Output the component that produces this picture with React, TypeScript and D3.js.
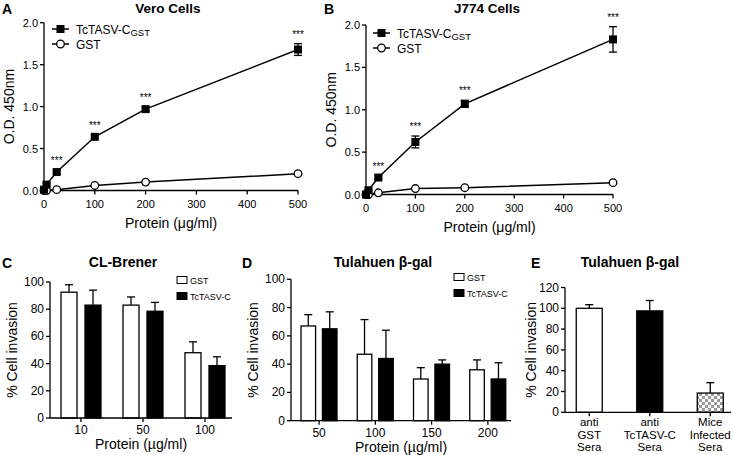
import React from "react";
import * as d3 from "d3";

// ---------- Data ----------
const doseX = [0, 5, 25, 100, 200, 500];
const xTicksLine = [0, 100, 200, 300, 400, 500];
const yTicksLine = [0, 0.5, 1.0, 1.5, 2.0];

const veroTc = [0.01, 0.07, 0.22, 0.64, 0.97, 1.68];
const veroTcErr = [0.01, 0.02, 0.02, 0.02, 0.02, 0.07];
const veroGst = [0.0, 0.0, 0.01, 0.06, 0.1, 0.2];
const veroStars = [false, false, true, true, true, true];

const j774Tc = [0.0, 0.05, 0.2, 0.62, 1.07, 1.83];
const j774TcErr = [0.01, 0.01, 0.02, 0.07, 0.04, 0.15];
const j774Gst = [0.0, 0.0, 0.02, 0.07, 0.08, 0.14];
const j774Stars = [false, false, true, true, true, true];

const clGroups = ["10", "50", "100"];
const clGst = [92.5, 83, 48];
const clGstErr = [5.5, 6, 8];
const clTc = [83, 78.5, 38.5];
const clTcErr = [11, 6.5, 6.5];
const yTicksC = [0, 20, 40, 60, 80, 100];

const tulGroups = ["50", "100", "150", "200"];
const tulGst = [67, 47, 29.5, 36];
const tulGstErr = [8, 24.5, 8, 7];
const tulTc = [65, 44, 40, 29.5];
const tulTcErr = [12, 20, 3, 11.5];
const yTicksD = [0, 20, 40, 60, 80, 100];

const seraCats = ["anti GST Sera", "anti TcTASV-C Sera", "Mice Infected Sera"];
const seraLabels = [["anti", "GST", "Sera"], ["anti", "TcTASV-C", "Sera"], ["Mice", "Infected", "Sera"]];
const seraVals = [100, 97.5, 18.5];
const seraErr = [3.5, 10, 10];
const yTicksE = [0, 20, 40, 60, 80, 100, 120];

const FONT = "Liberation Sans, Arial, Helvetica, sans-serif";
const AX = 1.3;

function LinePanel(props: any) {
  const { xRange, yRange, tc, tcErr, gst, stars, title, titleX, letter, letterX, yLabelX, legX, legY } = props;
  const x = d3.scaleLinear().domain([0, 500]).range(xRange);
  const y = d3.scaleLinear().domain([0, 2]).range(yRange);
  const line = d3.line<number>().x((_, i) => x(doseX[i])).y((d) => y(d));
  const x0 = x(0), y0 = y(0);
  return (
    <g fontFamily={FONT}>
      <text x={letterX} y={14} fontSize={14} fontWeight="bold">{letter}</text>
      <text x={titleX} y={12.5} fontSize={13.5} fontWeight="bold" textAnchor="middle">{title}</text>
      <line x1={x0} x2={x0} y1={y0} y2={y(2)} stroke="#000" strokeWidth={AX} />
      <line x1={x0} x2={x(500)} y1={y0} y2={y0} stroke="#000" strokeWidth={AX} />
      {yTicksLine.map((t) => (
        <g key={"y" + t}>
          <line x1={x0 - 4} x2={x0} y1={y(t)} y2={y(t)} stroke="#000" strokeWidth={AX} />
          <text x={x0 - 6} y={y(t) + 4} fontSize={11} textAnchor="end">{t.toFixed(1)}</text>
        </g>
      ))}
      {xTicksLine.map((t) => (
        <g key={"x" + t}>
          <line x1={x(t)} x2={x(t)} y1={y0} y2={y0 + 4} stroke="#000" strokeWidth={AX} />
          <text x={x(t)} y={y0 + 17} fontSize={11} textAnchor="middle">{t}</text>
        </g>
      ))}
      <text x={(x0 + x(500)) / 2} y={y0 + 37} fontSize={14} textAnchor="middle">Protein (μg/ml)</text>
      <text transform={`translate(${yLabelX},${(y0 + y(2)) / 2}) rotate(-90)`} fontSize={14} textAnchor="middle">O.D. 450nm</text>
      <path d={line(gst) || ""} fill="none" stroke="#000" strokeWidth={1.5} />
      <path d={line(tc) || ""} fill="none" stroke="#000" strokeWidth={1.5} />
      {gst.map((v: number, i: number) => (
        <circle key={"g" + i} cx={x(doseX[i])} cy={y(v)} r={3.8} fill="#fff" stroke="#000" strokeWidth={1.3} />
      ))}
      {tc.map((v: number, i: number) => {
        const cx = x(doseX[i]);
        const top = y(v + tcErr[i]);
        const bot = y(Math.max(0, v - tcErr[i]));
        return (
          <g key={"t" + i}>
            <line x1={cx} x2={cx} y1={top} y2={bot} stroke="#000" strokeWidth={1.3} />
            <line x1={cx - 4} x2={cx + 4} y1={top} y2={top} stroke="#000" strokeWidth={1.3} />
            <line x1={cx - 4} x2={cx + 4} y1={bot} y2={bot} stroke="#000" strokeWidth={1.3} />
            <rect x={cx - 4} y={y(v) - 4} width={8} height={8} fill="#000" />
            {stars[i] && (
              <text x={cx} y={top - 6} fontSize={10} textAnchor="middle" fill="#000">***</text>
            )}
          </g>
        );
      })}
      <line x1={legX} x2={legX + 17} y1={legY} y2={legY} stroke="#000" strokeWidth={1.5} />
      <rect x={legX + 4.5} y={legY - 4} width={8} height={8} fill="#000" />
      <text x={legX + 24} y={legY + 4.5} fontSize={12}>TcTASV-C<tspan fontSize={9.5} dy={2}>GST</tspan></text>
      <line x1={legX} x2={legX + 17} y1={legY + 15} y2={legY + 15} stroke="#000" strokeWidth={1.5} />
      <circle cx={legX + 8.5} cy={legY + 15} r={3.8} fill="#fff" stroke="#000" strokeWidth={1.3} />
      <text x={legX + 24} y={legY + 19.5} fontSize={12}>GST</text>
    </g>
  );
}

function ErrBar({ cx, top, base }: any) {
  return (
    <g>
      <line x1={cx} x2={cx} y1={top} y2={base} stroke="#000" strokeWidth={1.3} />
      <line x1={cx - 4} x2={cx + 4} y1={top} y2={top} stroke="#000" strokeWidth={1.3} />
    </g>
  );
}

function GroupedBars(props: any) {
  const { groups, gst, gstErr, tc, tcErr, xRange, axisEnd, yRange, ticks, inner, padInner, title, titleX, letter, letterX, yLabelX, legX, legY, legFont } = props;
  const x = d3.scaleBand<string>().domain(groups).range(xRange);
  const xi = d3.scaleBand<string>().domain(["gst", "tc"]).range(inner).paddingInner(padInner);
  const y = d3.scaleLinear().domain([0, 100]).range(yRange);
  const x0 = xRange[0], y0 = y(0);
  return (
    <g fontFamily={FONT}>
      <text x={letterX} y={268} fontSize={14} fontWeight="bold">{letter}</text>
      <text x={titleX} y={267} fontSize={14} fontWeight="bold" textAnchor="middle">{title}</text>
      {groups.map((g: string, i: number) => {
        const gx = x(g) as number;
        const wx = gx + (xi("gst") as number);
        const bx = gx + (xi("tc") as number);
        const bw = xi.bandwidth();
        return (
          <g key={g}>
            <ErrBar cx={wx + bw / 2} top={y(gst[i] + gstErr[i])} base={y(gst[i])} />
            <ErrBar cx={bx + bw / 2} top={y(tc[i] + tcErr[i])} base={y(tc[i])} />
            <rect x={wx} y={y(gst[i])} width={bw} height={y0 - y(gst[i])} fill="#fff" stroke="#000" strokeWidth={1.3} />
            <rect x={bx} y={y(tc[i])} width={bw} height={y0 - y(tc[i])} fill="#000" stroke="#000" strokeWidth={1.3} />
            <line x1={gx + x.bandwidth() / 2} x2={gx + x.bandwidth() / 2} y1={y0} y2={y0 + 4} stroke="#000" strokeWidth={AX} />
            <text x={gx + x.bandwidth() / 2} y={y0 + 16} fontSize={12} textAnchor="middle">{g}</text>
          </g>
        );
      })}
      <line x1={x0} x2={x0} y1={y0} y2={y(100)} stroke="#000" strokeWidth={AX} />
      <line x1={x0} x2={axisEnd} y1={y0} y2={y0} stroke="#000" strokeWidth={AX} />
      {ticks.map((t: number) => (
        <g key={"y" + t}>
          <line x1={x0 - 4} x2={x0} y1={y(t)} y2={y(t)} stroke="#000" strokeWidth={AX} />
          <text x={x0 - 6} y={y(t) + 4} fontSize={12} textAnchor="end">{t}</text>
        </g>
      ))}
      <text x={(x0 + axisEnd) / 2} y={y0 + 31} fontSize={14} textAnchor="middle">Protein (µg/ml)</text>
      <text transform={`translate(${yLabelX},${(y0 + y(100)) / 2}) rotate(-90)`} fontSize={14} textAnchor="middle">% Cell invasion</text>
      <rect x={legX} y={legY - 3.5} width={10} height={7} fill="#fff" stroke="#000" strokeWidth={1} />
      <text x={legX + 13} y={legY + 3.5} fontSize={legFont}>GST</text>
      <rect x={legX} y={legY + 12.5} width={10} height={7} fill="#000" stroke="#000" strokeWidth={1} />
      <text x={legX + 13} y={legY + 19.5} fontSize={legFont}>TcTASV-C</text>
    </g>
  );
}

function SeraPanel() {
  const x = d3.scaleBand<string>().domain(seraCats).range([559, 740.5]);
  const y = d3.scaleLinear().domain([0, 120]).range([412.3, 287.5]);
  const x0 = 565, y0 = y(0);
  const bw = 26;
  const fills = ["#fff", "#000", "url(#checker)"];
  return (
    <g fontFamily={FONT}>
      <defs>
        <pattern id="checker" width={6} height={6} patternUnits="userSpaceOnUse">
          <rect width={6} height={6} fill="#fff" />
          <rect width={3} height={3} fill="#9a9a9a" />
          <rect x={3} y={3} width={3} height={3} fill="#9a9a9a" />
        </pattern>
      </defs>
      <text x={531} y={268} fontSize={14} fontWeight="bold">E</text>
      <text x={630} y={267} fontSize={14} fontWeight="bold" textAnchor="middle">Tulahuen β-gal</text>
      {seraCats.map((c, i) => {
        const cx = (x(c) as number) + x.bandwidth() / 2;
        return (
          <g key={c}>
            <ErrBar cx={cx} top={y(seraVals[i] + seraErr[i])} base={y(seraVals[i])} />
            <rect x={cx - bw / 2} y={y(seraVals[i])} width={bw} height={y0 - y(seraVals[i])} fill={fills[i]} stroke="#000" strokeWidth={1.3} />
            <line x1={cx} x2={cx} y1={y0} y2={y0 + 4} stroke="#000" strokeWidth={AX} />
            {seraLabels[i].map((s, j) => (
              <text key={j} x={cx} y={y0 + 13.5 + j * 12.7} fontSize={11.5} textAnchor="middle">{s}</text>
            ))}
          </g>
        );
      })}
      <line x1={x0} x2={x0} y1={y0} y2={y(120)} stroke="#000" strokeWidth={AX} />
      <line x1={x0} x2={731} y1={y0} y2={y0} stroke="#000" strokeWidth={AX} />
      {yTicksE.map((t) => (
        <g key={t}>
          <line x1={x0 - 4} x2={x0} y1={y(t)} y2={y(t)} stroke="#000" strokeWidth={AX} />
          <text x={x0 - 6} y={y(t) + 4} fontSize={12} textAnchor="end">{t}</text>
        </g>
      ))}
      <text transform={`translate(536,${(y0 + y(120)) / 2}) rotate(-90)`} fontSize={14} textAnchor="middle">% Cell invasion</text>
    </g>
  );
}

export default function App() {
  return (
    <svg width={732} height={455} style={{ position: "absolute", left: 0, top: 0, background: "#fff" }}>
      <rect width={732} height={455} fill="#fff" />
      <LinePanel xRange={[44, 298]} yRange={[190.5, 22.7]} tc={veroTc} tcErr={veroTcErr} gst={veroGst} stars={veroStars}
        title="Vero Cells" titleX={168} letter="A" letterX={2} yLabelX={14} legX={52} legY={29} />
      <LinePanel xRange={[366, 613]} yRange={[194.5, 25]} tc={j774Tc} tcErr={j774TcErr} gst={j774Gst} stars={j774Stars}
        title="J774 Cells" titleX={487} letter="B" letterX={324} yLabelX={336} legX={373} legY={33} />
      <GroupedBars groups={clGroups} gst={clGst} gstErr={clGstErr} tc={clTc} tcErr={clTcErr}
        xRange={[50, 236]} axisEnd={232} yRange={[418, 282]} ticks={yTicksC} inner={[11, 51]} padInner={0.333}
        title="CL-Brener" titleX={123} letter="C" letterX={2} yLabelX={17} legX={177} legY={280} legFont={9} />
      <GroupedBars groups={tulGroups} gst={tulGst} gstErr={tulGstErr} tc={tulTc} tcErr={tulTcErr}
        xRange={[291, 516]} axisEnd={511} yRange={[420.7, 279.3]} ticks={yTicksD} inner={[10, 46]} padInner={0.32}
        title="Tulahuen β-gal" titleX={383} letter="D" letterX={242} yLabelX={258} legX={454} legY={277} legFont={9} />
      <SeraPanel />
    </svg>
  );
}
